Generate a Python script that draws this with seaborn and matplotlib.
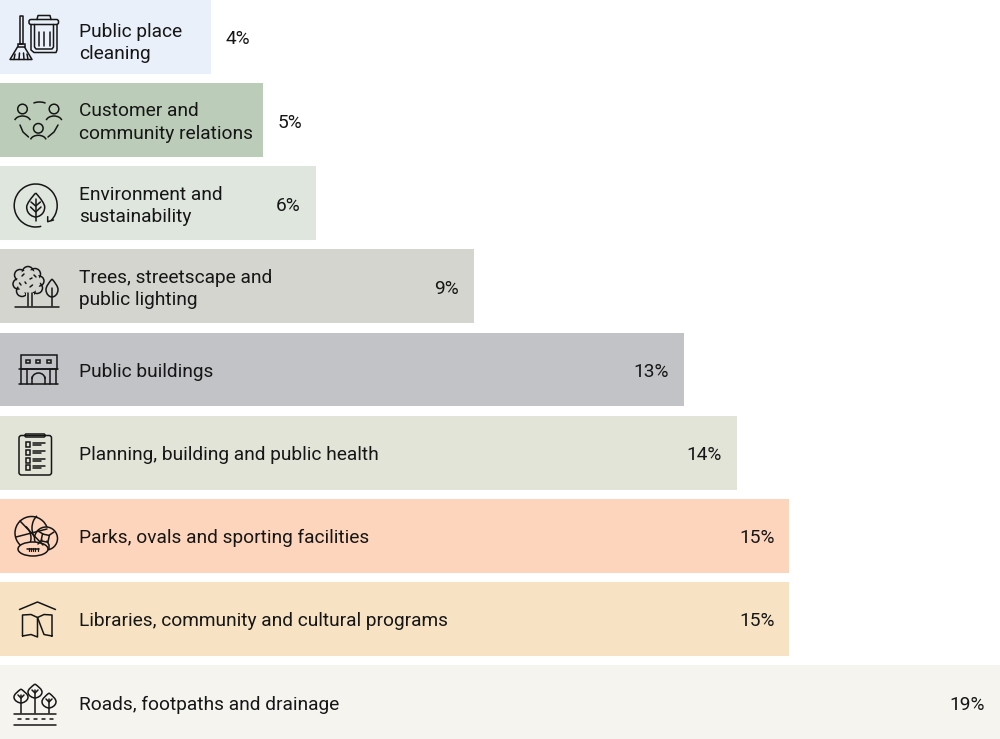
#!/usr/bin/env python3

import matplotlib
matplotlib.use("Agg")
import matplotlib.pyplot as plt
import seaborn as sns
from matplotlib.patches import Circle, Ellipse, FancyBboxPatch, PathPatch, Rectangle, Arc
from matplotlib.path import Path

#========= Data ===========
categories = [
    "Public place\ncleaning",
    "Customer and\ncommunity relations",
    "Environment and\nsustainability",
    "Trees, streetscape and\npublic lighting",
    "Public buildings",
    "Planning, building and public health",
    "Parks, ovals and sporting facilities",
    "Libraries, community and cultural programs",
    "Roads, footpaths and drainage",
]
values = [4, 5, 6, 9, 13, 14, 15, 15, 19]
colors = ["#E9F0F9", "#BBCDB8", "#DEE6DE", "#D5D5D0", "#C2C3C6",
          "#E3E4D8", "#FDD5BC", "#F7E3C3", "#F5F4EF"]

INK = "#161616"
LW = 1.1

sns.set_theme(style="white")
plt.rcParams["font.family"] = ["Roboto", "DejaVu Sans"]

fig = plt.figure(figsize=(10, 7.39), dpi=100)
ax = fig.add_axes([0, 0, 1, 1])

sns.barplot(x=values, y=categories, hue=categories, palette=colors, orient="h",
            width=0.89, saturation=1, dodge=False, legend=False, linewidth=0, ax=ax)
ax.set_xlim(0, 19)
ax.set_ylim(8.445, -0.445)
ax.axis("off")

for i, (cat, val) in enumerate(zip(categories, values)):
    # the first label sits a little low in its bar
    ax.annotate(cat, (0, i), xytext=(79, -6 if i == 0 else -2.5), textcoords="offset pixels",
                ha="left", va="center", fontsize=13.75, color=INK, linespacing=1.32)
    # small bars have the number outside
    off = 40 if val <= 4 else (39 if val == 5 else -15)
    ax.annotate(f"{val}%", (val, i), xytext=(off, -2.5), textcoords="offset pixels",
                ha="right", va="center", fontsize=13.75, color=INK)

#### icons, on an overlay in pixel coordinates ############
ic = fig.add_axes([0, 0, 1, 1], facecolor="none")
ic.set_xlim(0, 1000)
ic.set_ylim(739, 0)
ic.axis("off")


def line(xs, ys, lw=LW):
    ic.plot(xs, ys, color=INK, lw=lw, solid_capstyle="round", solid_joinstyle="round")


def circ(x, y, r, bg="none", lw=LW):
    ic.add_patch(Circle((x, y), r, fc=bg, ec=INK, lw=lw))


def box(x, y, w, h, rad=1.5, bg="none"):
    ic.add_patch(FancyBboxPatch((x, y), w, h, boxstyle=f"round,pad=0,rounding_size={rad}",
                                fc=bg, ec=INK, lw=LW))


def arc(x, y, w, h, a0, a1):
    ic.add_patch(Arc((x, y), w, h, theta1=a0, theta2=a1, color=INK, lw=LW))


def leaf(x, top, bot, hw, bg="none"):
    mid = top + (bot - top) * 0.58
    verts = [(x, top), (x + hw * 0.5, top + (bot - top) * 0.2), (x + hw, mid - 3), (x + hw, mid),
             (x + hw, bot - 2), (x + 2, bot), (x, bot),
             (x - 2, bot), (x - hw, bot - 2), (x - hw, mid),
             (x - hw, mid - 3), (x - hw * 0.5, top + (bot - top) * 0.2), (x, top)]
    codes = [Path.MOVETO] + [Path.CURVE4] * 12
    ic.add_patch(PathPatch(Path(verts, codes), fc=bg, ec=INK, lw=LW))


# broom and bin
line([19.5, 19.5, 22.5, 22.5, 19.5], [44, 15.5, 15.5, 44, 44])
ic.add_patch(Rectangle((17.5, 44), 7, 3, fc="none", ec=INK, lw=LW))
line([17.5, 10, 32, 24.5], [47, 59.5, 59.5, 47])
line([14, 15], [59.5, 54])
line([19, 19.5], [59.5, 53])
line([24, 23.5], [59.5, 53])
line([28, 27], [59.5, 54])
box(29, 19.5, 29.5, 5, 2)
line([37, 38, 50, 51], [19.5, 15.5, 15.5, 19.5])
line([31, 31, 34, 56, 57, 57], [24.5, 50, 52.5, 52.5, 50, 24.5])
line([34.5, 34.5, 36, 52, 53.5, 53.5], [24.5, 47, 49, 49, 47, 24.5])
for x in (38.5, 44, 49.5):
    line([x, x], [32, 46])

# people in a ring
for x, y in ((22.5, 109), (54, 109), (38.3, 128.3)):
    circ(x, y, 4.8)
    arc(x, y + 12.5, 16, 11, 190, 350)
arc(39.5, 106, 17, 8, 205, 335)
line([20, 23, 28.5], [125, 132, 137])
line([58, 54, 48], [125, 132, 137])

# leaf in a circle with arrow
arc(35.7, 205.5, 43, 43, 75, 405)
line([47.7, 47.7, 53.5], [216.7, 221.7, 220])
leaf(35.7, 193, 217, 9)
line([35.7, 35.7], [199, 221])
line([31, 35.7, 40.4], [202, 206, 202])
line([30.5, 35.7, 41], [207, 212, 207])

# trees
bg = colors[3]
for x, y, r in ((28, 272, 5.5), (35, 274, 5.5), (39, 281, 5), (37, 288, 5.5), (30, 291, 5),
                (22, 291, 5.5), (18, 284, 5), (20, 275, 5.5)):
    circ(x, y, r)
ic.add_patch(Circle((28.5, 281.5), 11.5, fc=bg, ec="none", zorder=3))
for (x0, y0, x1, y1) in ((22, 276, 24, 274), (34, 275, 36, 277), (19.5, 283, 21, 285),
                         (30, 279, 32, 278), (30, 287, 32.5, 285), (25, 282, 26, 283.5)):
    ic.plot([x0, x1], [y0, y1], color=INK, lw=LW, zorder=4)
ic.add_patch(Rectangle((26, 293), 8, 6, fc=bg, ec="none", zorder=3))
ic.plot([28, 28], [293, 306], color=INK, lw=LW, zorder=4)
ic.plot([32, 32], [293, 306], color=INK, lw=LW, zorder=4)
leaf(52, 279, 297, 6)
line([52, 52], [288, 306])
line([14.5, 58.5], [306.5, 306.5])

# building
ic.add_patch(Rectangle((20.5, 355), 36, 14, fc="none", ec=INK, lw=LW))
for x in (28, 38, 49):
    ic.add_patch(Rectangle((x - 1.6, 360), 3.2, 3.2, fc="none", ec=INK, lw=LW))
line([18.5, 58], [369, 369])
line([18.5, 58], [384, 384])
for x in (21, 27, 50, 56):
    line([x, x], [369, 384])
line([32, 32], [384, 377])
line([45, 45], [384, 377])
arc(38.5, 379, 13, 12, 180, 360)

# clipboard
box(19, 435.5, 32.5, 39.5, 2.5)
box(25, 434, 20, 3, 1.2)
for y in (444, 452, 460, 467):
    ic.add_patch(Rectangle((25.5, y - 2), 4.5, 4.5, fc="none", ec=INK, lw=LW))
    line([33, 45], [y - 1, y - 1])
    line([33, 41], [y + 1.2, y + 1.2])

# balls
bg = colors[6]
circ(31.5, 533, 16.5, bg)
line([20, 43], [521, 545])
line([16, 47], [537, 529])
arc(19, 538, 24, 28, 300, 60)
arc(44, 528, 24, 30, 120, 240)
circ(46, 538.5, 11.5, bg)
ic.add_patch(Rectangle((42.5, 534), 7, 7, angle=12, fc="none", ec=INK, lw=LW))
line([43, 38], [534, 531])
line([49.5, 54], [535, 532])
line([47, 49, 49], [541, 545, 549])
line([42, 38], [540, 544])
ic.add_patch(Ellipse((33, 549), 30, 14, fc=bg, ec=INK, lw=LW))
line([27, 39], [549, 549])
for x in (28.5, 31, 33, 35, 37.5):
    line([x, x], [547.5, 550.5], lw=0.9)

# open book under a roof
line([19.5, 37.5, 55.5], [609.5, 602, 609.5])
line([22.5, 22.5, 31, 37.5, 37.5, 31, 22.5], [636, 615, 614.5, 617.5, 637, 634.5, 636])
line([52, 52, 44, 37.5, 44, 52], [636, 615, 614.5, 617.5, 634.5, 636])

# roadside trees
for x, top, bot in ((21, 689, 703), (35, 684, 698), (49, 693, 708)):
    leaf(x, top, bot, 7)
    line([x, x], [top + 6, 713])
    line([x - 3, x, x + 3], [top + 6, top + 9, top + 6])
line([14, 56], [713.5, 713.5])
for x in (17.5, 25.5, 33.5, 41.5, 49.5):
    line([x, x + 3.5], [719, 719])
line([14, 56], [724.5, 724.5])

fig.savefig("out.png", dpi=100)
